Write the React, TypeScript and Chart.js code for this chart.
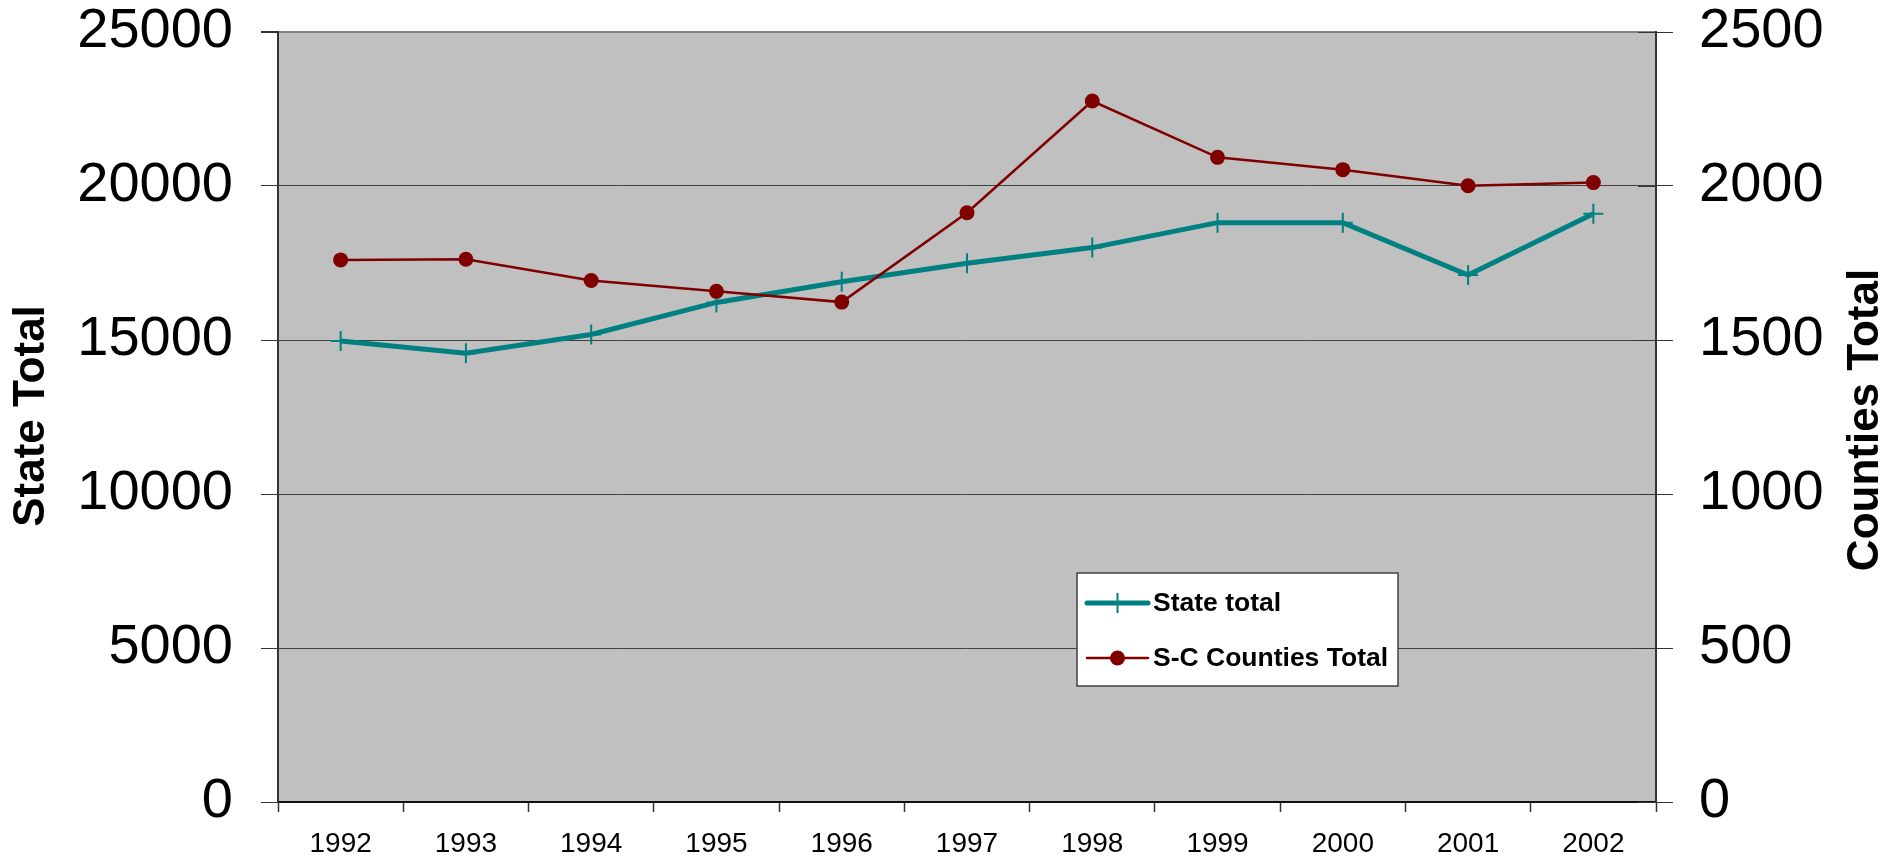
import { useEffect, useRef } from "react";
import { Chart, registerables } from "chart.js";

Chart.register(...registerables);

const years = ["1992", "1993", "1994", "1995", "1996", "1997", "1998", "1999", "2000", "2001", "2002"];
const stateTotal = [14970, 14570, 15180, 16220, 16890, 17490, 18000, 18810, 18810, 17110, 19100];
const countiesTotal = [1760, 1762, 1693, 1658, 1623, 1913, 2276, 2093, 2053, 2001, 2011];
const seriesNames = ["State total", "S-C Counties Total"];
const leftAxisTitle = "State Total";
const rightAxisTitle = "Counties Total";
const leftRange = [0, 25000, 5000];
const rightRange = [0, 2500, 500];

const FONT = "'Liberation Sans', Arial, Helvetica, sans-serif";
const TEAL = "#008080";
const MAROON = "#800000";

export default function App() {
  const ref = useRef<HTMLCanvasElement>(null);

  useEffect(() => {
    document.body.style.margin = "0";
    const canvas = ref.current;
    if (!canvas) return;

    const decor = {
      id: "decor",
      beforeDraw(chart: any) {
        const { ctx, chartArea: a } = chart;
        ctx.save();
        ctx.fillStyle = "#C0C0C0";
        ctx.fillRect(a.left, a.top, a.right - a.left, a.bottom - a.top);
        ctx.restore();
      },
      afterDraw(chart: any) {
        const { ctx, chartArea: a } = chart;
        ctx.save();
        // inner ticks on right axis
        const yr = chart.scales.yRight;
        ctx.strokeStyle = "#333";
        ctx.lineWidth = 1;
        yr.ticks.forEach((t: any) => {
          const py = Math.round(yr.getPixelForValue(t.value)) + 0.5;
          ctx.beginPath();
          ctx.moveTo(a.right - 18, py);
          ctx.lineTo(a.right, py);
          ctx.stroke();
        });

        // axis titles
        ctx.fillStyle = "#000";
        ctx.font = `bold 44px ${FONT}`;
        ctx.textAlign = "center";
        ctx.textBaseline = "middle";
        const midY = (a.top + a.bottom) / 2;
        ctx.save();
        ctx.translate(32, midY - 1);
        ctx.rotate(-Math.PI / 2);
        ctx.fillText(leftAxisTitle, 0, 0);
        ctx.restore();
        ctx.save();
        ctx.translate(1866, midY + 3);
        ctx.rotate(-Math.PI / 2);
        ctx.fillText(rightAxisTitle, 0, 0);
        ctx.restore();

        // legend
        const bx = a.left + 799;
        const by = a.top + 541;
        const bw = 321;
        const bh = 113;
        ctx.fillStyle = "#FFFFFF";
        ctx.fillRect(bx, by, bw, bh);
        ctx.strokeStyle = "#404040";
        ctx.lineWidth = 1.5;
        ctx.strokeRect(bx, by, bw, bh);

        const ds = chart.data.datasets;
        const rows = [by + 30, by + 85];
        const order = [0, 1];
        order.forEach((di, i) => {
          const d = ds[di];
          const y = rows[i];
          const x1 = bx + 10;
          const x2 = bx + 71;
          const cx = (x1 + x2) / 2;
          ctx.strokeStyle = d.borderColor;
          ctx.lineWidth = d.borderWidth;
          ctx.lineCap = "round";
          ctx.beginPath();
          ctx.moveTo(x1, y);
          ctx.lineTo(x2, y);
          ctx.stroke();
          if (d.pointStyle === "cross") {
            ctx.lineWidth = 2;
            ctx.lineCap = "butt";
            ctx.beginPath();
            ctx.moveTo(cx, y - d.pointRadius);
            ctx.lineTo(cx, y + d.pointRadius);
            ctx.stroke();
          } else {
            ctx.fillStyle = d.pointBackgroundColor;
            ctx.beginPath();
            ctx.arc(cx, y, d.pointRadius, 0, Math.PI * 2);
            ctx.fill();
          }
          ctx.fillStyle = "#000";
          ctx.font = `bold 26.5px ${FONT}`;
          ctx.textAlign = "left";
          ctx.textBaseline = "middle";
          ctx.fillText(d.label, bx + 76, y + 1);
        });
        ctx.restore();
      },
    };

    const chart = new Chart(canvas, {
      type: "line",
      data: {
        labels: years,
        datasets: [
          {
            label: seriesNames[0],
            data: stateTotal,
            yAxisID: "yLeft",
            borderColor: TEAL,
            backgroundColor: TEAL,
            borderWidth: 5,
            pointStyle: "cross",
            pointRadius: 10,
            pointBorderWidth: 2,
            pointBorderColor: TEAL,
            pointBackgroundColor: TEAL,
            tension: 0,
            order: 1,
          } as any,
          {
            label: seriesNames[1],
            data: countiesTotal,
            yAxisID: "yRight",
            borderColor: MAROON,
            backgroundColor: MAROON,
            borderWidth: 2.5,
            pointStyle: "circle",
            pointRadius: 7.5,
            pointBorderWidth: 0,
            pointBackgroundColor: MAROON,
            tension: 0,
            order: 0,
          } as any,
        ],
      },
      options: {
        responsive: false,
        animation: false,
        events: [],
        layout: { padding: { top: 32, left: 0, right: 0, bottom: 0 } },
        plugins: {
          legend: { display: false },
          tooltip: { enabled: false },
          title: { display: false },
        },
        scales: {
          x: {
            type: "category",
            offset: true,
            grid: {
              offset: true,
              drawOnChartArea: false,
              drawTicks: true,
              tickLength: 10,
              tickColor: "#333",
              tickWidth: 1.5,
            },
            border: { display: true, color: "#111", width: 2 },
            ticks: {
              color: "#000",
              font: { family: FONT, size: 28 },
              padding: 15,
              maxRotation: 0,
              autoSkip: false,
            },
            afterFit(scale: any) {
              scale.height = 58;
              scale.paddingLeft = 0;
              scale.paddingRight = 0;
            },
          },
          yLeft: {
            type: "linear",
            position: "left",
            min: leftRange[0],
            max: leftRange[1],
            ticks: {
              stepSize: leftRange[2],
              color: "#000",
              font: { family: FONT, size: 56 },
              padding: 28,
              callback: (v: any) => String(v),
            },
            grid: {
              color: (c: any) => (c.tick && c.tick.value === leftRange[1] ? "#808080" : "#404040"),
              lineWidth: (c: any) => (c.tick && c.tick.value === leftRange[1] ? 2 : 1),
              drawTicks: true,
              tickLength: 17,
              tickColor: "#333",
            },
            border: { display: true, color: "#333", width: 2 },
            afterFit(scale: any) {
              scale.width = 278;
              scale.paddingTop = 0;
              scale.paddingBottom = 0;
            },
          },
          yRight: {
            type: "linear",
            position: "right",
            min: rightRange[0],
            max: rightRange[1],
            ticks: {
              stepSize: rightRange[2],
              color: "#000",
              font: { family: FONT, size: 56 },
              padding: 26,
              callback: (v: any) => String(v),
            },
            grid: {
              drawOnChartArea: false,
              drawTicks: true,
              tickLength: 17,
              tickColor: "#333",
            },
            border: { display: true, color: "#333", width: 2 },
            afterFit(scale: any) {
              scale.width = 248;
              scale.paddingTop = 0;
              scale.paddingBottom = 0;
            },
          },
        },
      } as any,
      plugins: [decor],
    });

    return () => chart.destroy();
  }, []);

  return (
    <div style={{ width: 1904, height: 860, position: "relative", background: "#fff" }}>
      <canvas ref={ref} width={1904} height={860} style={{ display: "block", width: 1904, height: 860 }} />
    </div>
  );
}
